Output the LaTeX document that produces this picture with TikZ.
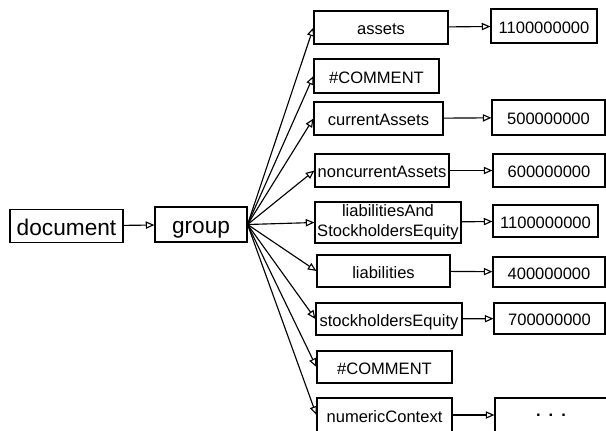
\documentclass[tikz,border=0pt]{standalone}
\usepackage{fontspec}
\setmainfont{Liberation Sans}
\usetikzlibrary{arrows.meta}
\tikzset{
  frame/.style={draw, line width=0.85pt, inner sep=0pt, align=center, font=\fontsize{12.4}{15}\selectfont},
  box/.style={frame, text height=12.4pt, text depth=1.6pt},
  bigbox/.style={frame, text height=16pt, text depth=2pt, font=\fontsize{17}{20}\selectfont},
  link/.style={line width=0.85pt, -{Triangle[open, length=6.5pt, width=5.5pt]}}
}

\begin{document}
\begin{tikzpicture}[x=0.75pt, y=-0.75pt]
			%%%%% START %%%%%
			\useasboundingbox (0, 0) rectangle (606, 430);
			
			\node[bigbox, minimum width=84.75pt, minimum height=24.75pt] (document) at (66.5, 226) {document};
			\node[bigbox, minimum width=69pt, minimum height=26.25pt] (group) at (201, 224.5) {group};
			
			\node[box, minimum width=100.5pt, minimum height=24.75pt] (assets) at (381, 27.5) {assets};
			\node[box, minimum width=93.75pt, minimum height=25.5pt] (commentA) at (376.5, 76) {\#COMMENT};
			\node[box, minimum width=96.75pt, minimum height=24.75pt] (currentAssets) at (378.5, 118.5) {currentAssets};
			\node[box, minimum width=100.5pt, minimum height=24.75pt] (noncurrentAssets) at (382, 170.5) {noncurrentAssets};
			\node[frame, minimum width=109.5pt, minimum height=30.75pt] (liabAndEquity) at (388, 222.5) {liabilitiesAnd\\StockholdersEquity};
			\node[box, minimum width=99.75pt, minimum height=24pt] (liabilities) at (383.5, 271) {liabilities};
			\node[box, minimum width=109.5pt, minimum height=24pt] (stockEquity) at (389, 319) {stockholdersEquity};
			\node[box, minimum width=101.25pt, minimum height=24pt] (commentB) at (384.5, 367) {\#COMMENT};
			\node[box, minimum width=101.25pt, minimum height=25.5pt] (numericContext) at (384.5, 415) {numericContext};
			
			\node[box, minimum width=79.5pt, minimum height=25.5pt] (valAssets) at (544, 26) {1100000000};
			\node[box, minimum width=84.75pt, minimum height=26.25pt] (valCurrent) at (548.5, 117.5) {500000000};
			\node[box, minimum width=84pt, minimum height=24.75pt] (valNoncurrent) at (549, 170.5) {600000000};
			\node[box, minimum width=78.75pt, minimum height=24pt] (valLiabAnd) at (545.5, 221) {1100000000};
			\node[box, minimum width=84pt, minimum height=22.5pt] (valLiab) at (549, 272) {400000000};
			\node[box, minimum width=83.25pt, minimum height=23.25pt] (valEquity) at (549.5, 318.5) {700000000};
			\node[frame, minimum width=84pt, minimum height=25.5pt] (valDots) at (551, 415) {\textbf{.}\hspace{6pt}\textbf{.}\hspace{6pt}\textbf{.}};
			
			\draw[link] (document) -- (group);
			
			\foreach \n in {assets, commentA, currentAssets, noncurrentAssets, liabAndEquity, liabilities, stockEquity, commentB, numericContext}
				\draw[link] (group.east) -- (\n.west);
			
			\draw[link] (assets) -- (valAssets);
			\draw[link] (currentAssets) -- (valCurrent);
			\draw[link] (noncurrentAssets) -- (valNoncurrent);
			\draw[link] (liabAndEquity) -- (valLiabAnd);
			\draw[link] (liabilities) -- (valLiab);
			\draw[link] (stockEquity) -- (valEquity);
			\draw[link] (numericContext) -- (valDots);
			%%%%% END %%%%%
		\end{tikzpicture}
\end{document}
